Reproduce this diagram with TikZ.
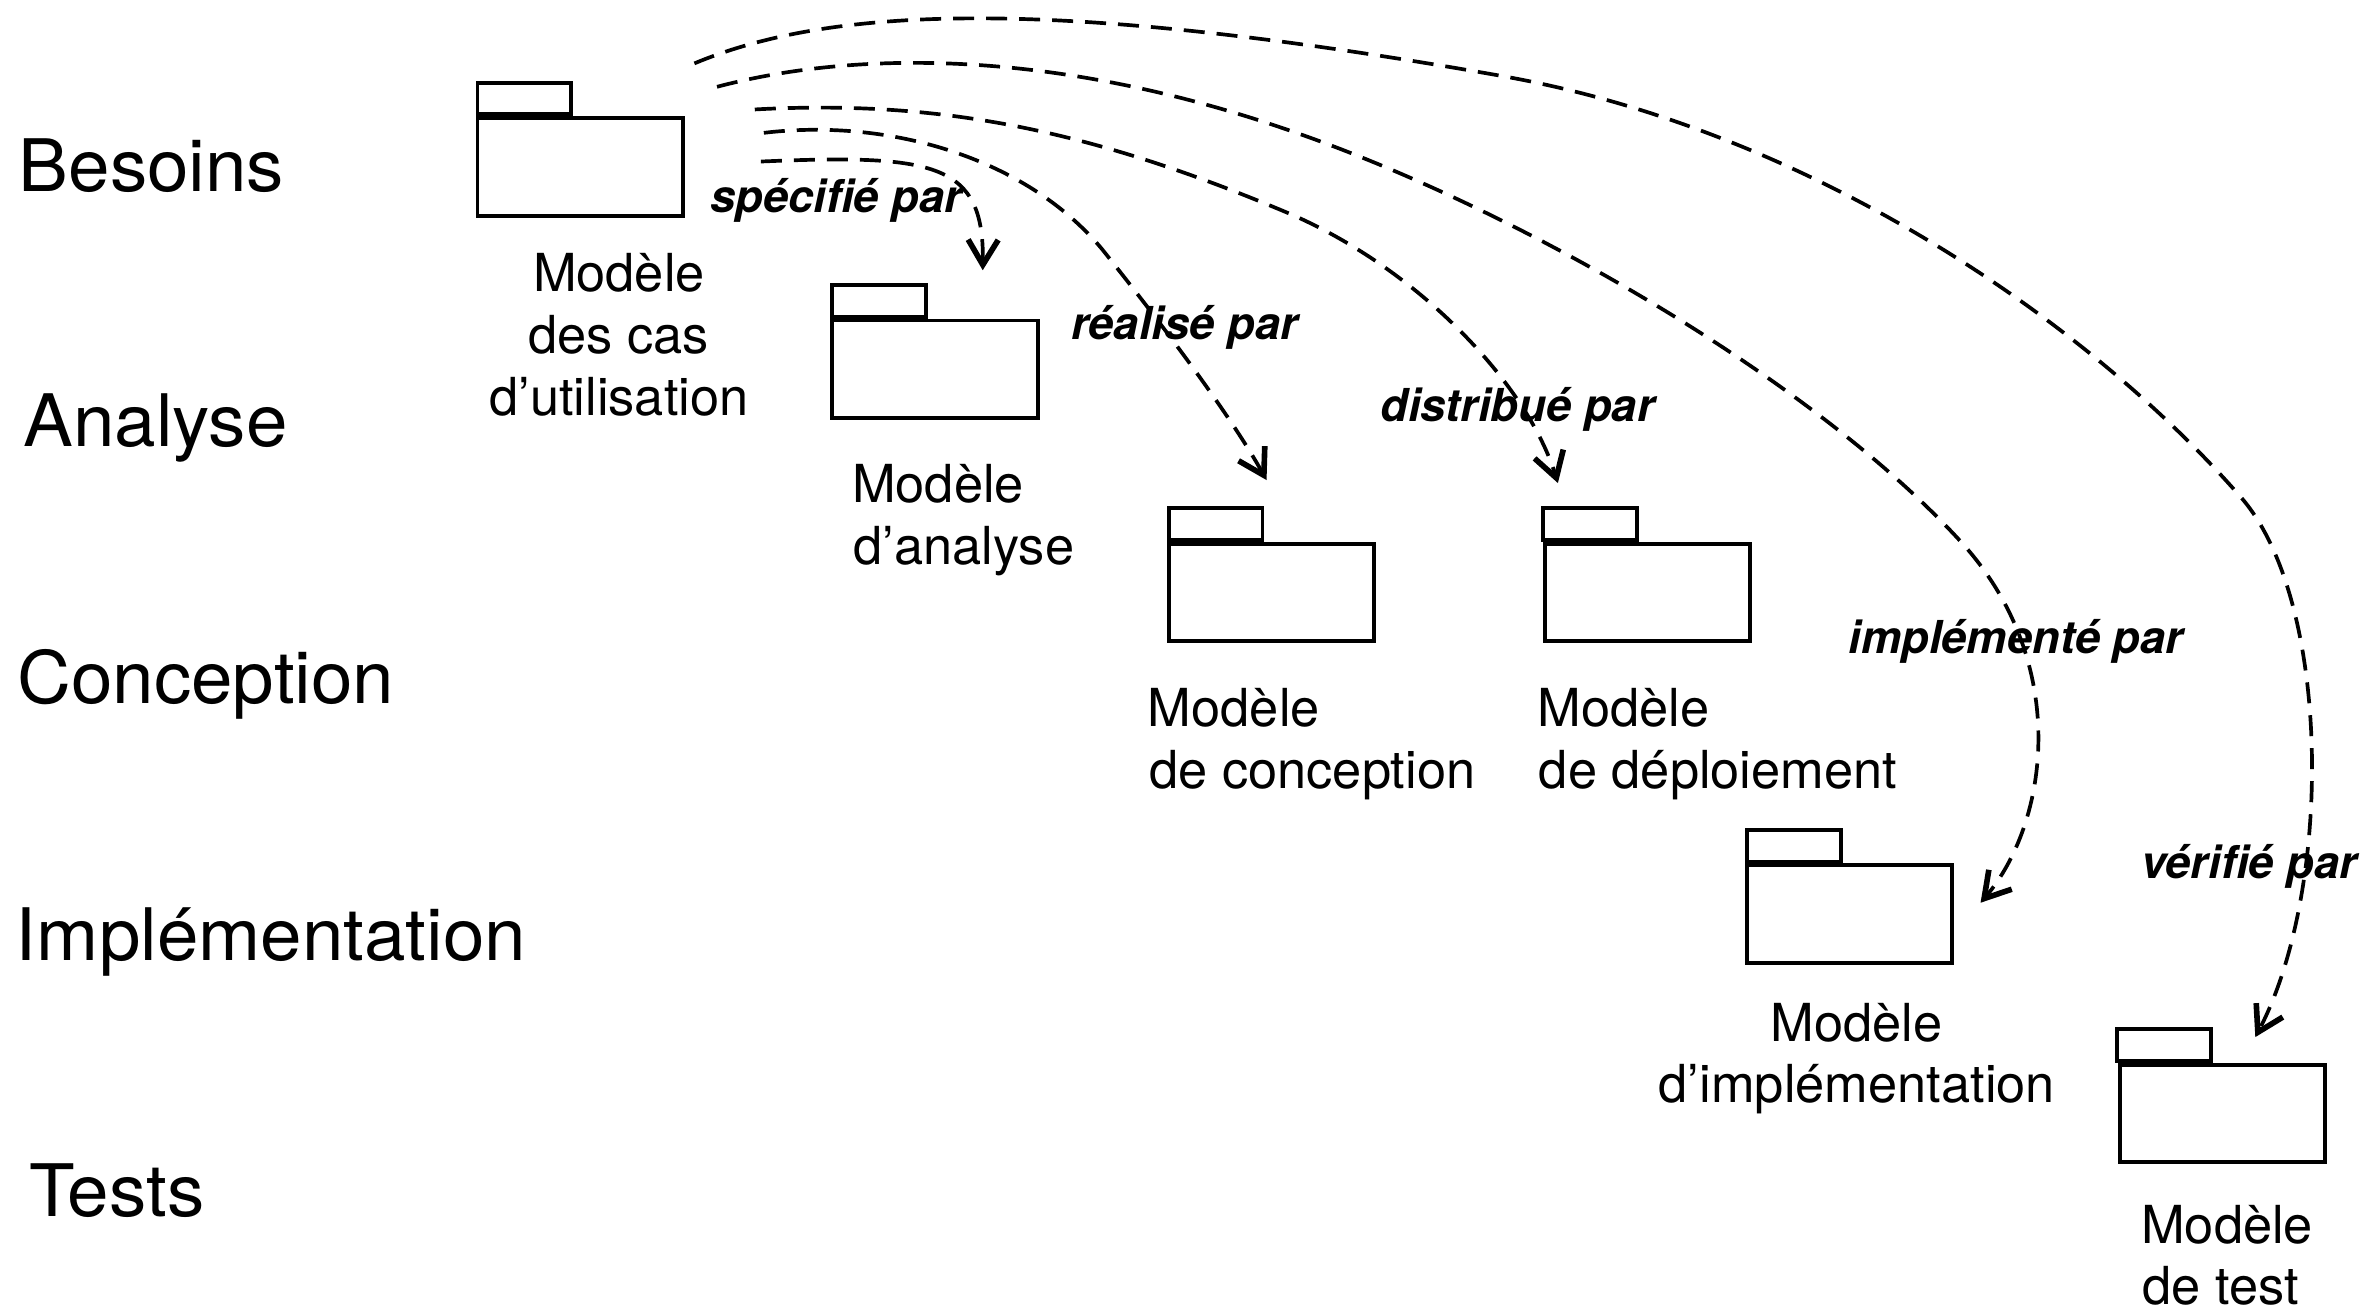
\documentclass[tikz,border=0pt]{standalone}
\usepackage{fontspec}
\setmainfont{TeX Gyre Heros}
\newfontfamily\phasefont[FakeStretch=1.03]{TeX Gyre Heros}
\usetikzlibrary{arrows.meta}
\begin{document}
\begin{tikzpicture}[x=0.015096cm, y=-0.015096cm,
  body/.style={draw, line width=1.1pt, inner sep=0, anchor=north west,
    minimum width=2.053cm, minimum height=0.974cm},
  tab/.style={draw, line width=1.1pt, inner sep=0, anchor=south west,
    minimum width=0.936cm, minimum height=0.317cm},
  phase/.style={anchor=base west, inner sep=0, font=\phasefont\fontsize{20.6pt}{24pt}\selectfont},
  mlab/.style={inner sep=0, font=\fontsize{14.9pt}{17.6pt}\selectfont},
  rlab/.style={anchor=base west, inner sep=0, font=\fontsize{12.9pt}{15pt}\selectfont\bfseries\itshape},
  conn/.style={line width=1.05pt, dash pattern=on 2.1mm off 1.2mm,
    -{Straight Barb[length=2.5mm, width=3mm, line width=1.6pt]}}]
\useasboundingbox (0,0) rectangle (1568,868);

% phase labels
\node[phase] (besoins) at (12,127) {Besoins};
\node[phase] (analyse) at (15,296) {Analyse};
\node[phase] (conception) at (11,466) {Conception};
\node[phase] (implementation) at (10,636) {Implémentation};
\node[phase] (tests) at (19,806) {Tests};

% packages
\node[body] (pUC) at (315,77) {};
\node[tab] (tUC) at (pUC.north west) {};
\node[body] (pAN) at (550,211) {};
\node[tab] (tAN) at (pAN.north west) {};
\node[body] (pCO) at (773,359) {};
\node[tab] (tCO) at (pCO.north west) {};
\node[body] (pDE) at (1022,359) {};
\node[tab] (tDE) at ([xshift=-0.4pt]pDE.north west) {};
\node[body] (pIM) at (1156,572) {};
\node[tab] (tIM) at (pIM.north west) {};
\node[body] (pTE) at (1403,704) {};
\node[tab] (tTE) at ([xshift=-0.8pt]pTE.north west) {};

% model labels
\node[mlab, anchor=base] (lUC1) at (410,193) {Modèle};
\node[mlab, anchor=base] (lUC2) at (410,234) {des cas};
\node[mlab, anchor=base] (lUC3) at (410,275) {d’utilisation};
\node[mlab, anchor=base west] (lAN1) at (564,333) {Modèle};
\node[mlab, anchor=base west] (lAN2) at (565,374) {d’analyse};
\node[mlab, anchor=base west] (lCO1) at (760,481) {Modèle};
\node[mlab, anchor=base west] (lCO2) at (761,522) {de conception};
\node[mlab, anchor=base west] (lDE1) at (1018,481) {Modèle};
\node[mlab, anchor=base west] (lDE2) at (1019,522) {de déploiement};
\node[mlab, anchor=base] (lIM1) at (1230,690) {Modèle};
\node[mlab, anchor=base] (lIM2) at (1230,730) {d’implémentation};
\node[mlab, anchor=base west] (lTE1) at (1418,824) {Modèle};
\node[mlab, anchor=base west] (lTE2) at (1419,864) {de test};

% relation labels
\node[rlab] (r1) at (470,141) {spécifié par};
\node[rlab] (r2) at (709,225) {réalisé par};
\node[rlab] (r3) at (914,279) {distribué par};
\node[rlab] (r4) at (1224,433) {implémenté par};
\node[rlab] (r5) at (1418,582) {vérifié par};

% connector ends
\coordinate (s1) at (504,107);
\coordinate (t1) at (651,179);
\coordinate (s2) at (506,88);
\coordinate (t2) at (839,318);
\coordinate (s3) at (500,72.5);
\coordinate (t3) at (1032,320);
\coordinate (s4) at (475,57.5);
\coordinate (t4) at (1312,598);
\coordinate (s5) at (460,42);
\coordinate (t5) at (1494,687);

% connectors
\draw[conn] (s1) .. controls (620,102) and (652,108) .. (t1);
\draw[conn] (s2) .. controls (590,78) and (680,105) .. (730,165)
  .. controls (770,215) and (815,275) .. (t2);
\draw[conn] (s3) .. controls (620,66) and (720,85) .. (853,141)
  .. controls (940,178) and (1012,255) .. (t3);
\draw[conn] (s4) .. controls (560,35) and (690,30) .. (853,86)
  .. controls (1000,136) and (1200,250) .. (1300,360)
  .. controls (1372,440) and (1357,545) .. (t4);
\draw[conn] (s5) .. controls (560,0) and (720,2) .. (993,50)
  .. controls (1200,86) and (1385,215) .. (1485,330)
  .. controls (1545,400) and (1545,590) .. (t5);
\end{tikzpicture}
\end{document}
